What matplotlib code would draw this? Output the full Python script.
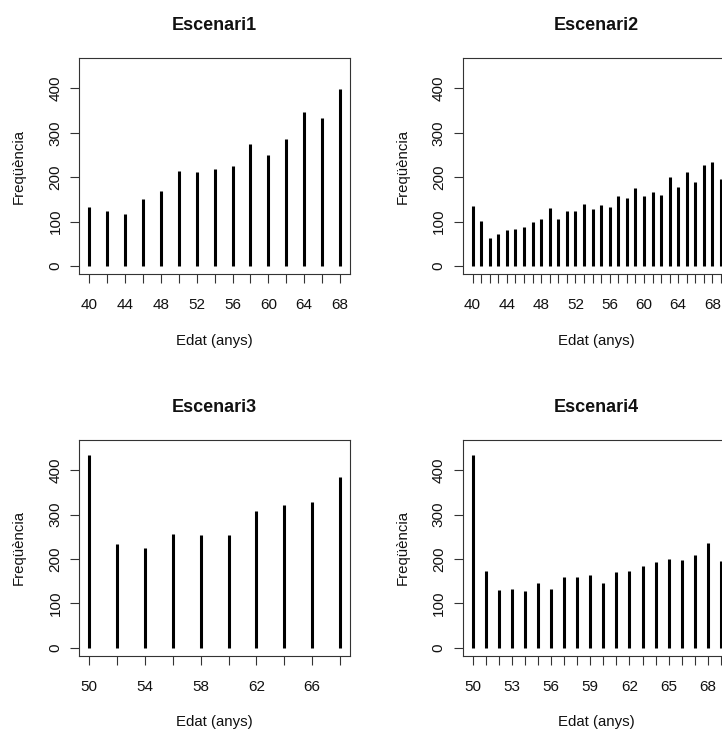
import matplotlib
matplotlib.use("Agg")
import matplotlib.pyplot as plt

plt.rcParams['font.family'] = ['Liberation Sans', 'DejaVu Sans']

# Age categories and observed frequencies for each scenario
ages1 = [40, 42, 44, 46, 48, 50, 52, 54, 56, 58, 60, 62, 64, 66, 68]
freq1 = [134, 125, 118, 151, 169, 214, 212, 219, 225, 274, 251, 286, 348, 333, 399]

ages2 = [40, 41, 42, 43, 44, 45, 46, 47, 48, 49, 50, 51, 52, 53, 54,
         55, 56, 57, 58, 59, 60, 61, 62, 63, 64, 65, 66, 67, 68, 69]
freq2 = [135, 102, 63, 73, 82, 84, 89, 100, 107, 130, 107, 125, 123, 140, 128,
         138, 133, 158, 154, 176, 158, 166, 161, 201, 178, 212, 190, 228, 234, 196]

ages3 = [50, 52, 54, 56, 58, 60, 62, 64, 66, 68]
freq3 = [434, 233, 225, 256, 253, 253, 307, 321, 328, 384]

ages4 = [50, 51, 52, 53, 54, 55, 56, 57, 58, 59,
         60, 61, 62, 63, 64, 65, 66, 67, 68, 69]
freq4 = [434, 173, 130, 132, 127, 145, 132, 160, 160, 163,
         145, 171, 173, 184, 194, 200, 197, 209, 237, 195]

titles = ["Escenari1", "Escenari2", "Escenari3", "Escenari4"]
label_steps = [2, 4, 2, 3]
y_ticks = [0, 100, 200, 300, 400]

FIG_W, FIG_H = 722, 730
BOX_H = 215.7
box_widths = [270.7, 268.4]
lefts = [79.3, 462.6]
tops = [58.3, 440.0]


def panel_axes(fig, left, top, width):
    return fig.add_axes([left / FIG_W, 1 - (top + BOX_H) / FIG_H,
                         width / FIG_W, BOX_H / FIG_H])


def draw_panel(ax, ages, freq, step, title, width):
    n = len(ages)
    pos = list(range(1, n + 1))
    ax.vlines(pos, 0, freq, colors='black', linewidth=2.2)
    ext = 0.04 * (n - 1)
    ax.set_xlim(1 - ext, n + ext)
    ax.set_ylim(-18, 468)
    ax.set_xticks(pos)
    ax.set_xticklabels([str(a) if i % step == 0 else '' for i, a in enumerate(ages)])
    ax.set_yticks(y_ticks)
    ax.set_yticklabels([str(v) for v in y_ticks], rotation=90, va='center')
    ax.tick_params(axis='both', direction='out', length=6.7, width=0.8,
                   color='#333333', labelsize=11, labelcolor='#111111')
    ax.tick_params(axis='x', pad=10.8)
    ax.tick_params(axis='y', pad=5.4)
    for sp in ax.spines.values():
        sp.set_linewidth(0.8)
        sp.set_color('#333333')
    ax.set_xlabel('Edat (anys)', fontsize=10.8, color='#111111', va='center')
    ax.xaxis.set_label_coords(0.5, -66.7 / BOX_H)
    ax.set_ylabel('Freqüència', fontsize=10.8, color='#111111', va='center')
    ax.yaxis.set_label_coords(-60.3 / width, 0.5)
    ax.set_title(title, fontsize=13, fontweight='bold', color='#111111',
                 y=1 + 28.3 / BOX_H, va='baseline', pad=0)


fig = plt.figure(figsize=(FIG_W / 100, FIG_H / 100), dpi=100)
data = [(ages1, freq1), (ages2, freq2), (ages3, freq3), (ages4, freq4)]
for k, (ages, freq) in enumerate(data):
    row, col = divmod(k, 2)
    ax = panel_axes(fig, lefts[col], tops[row], box_widths[col])
    draw_panel(ax, ages, freq, label_steps[k], titles[k], box_widths[col])

fig.savefig('out.png', dpi=100)
